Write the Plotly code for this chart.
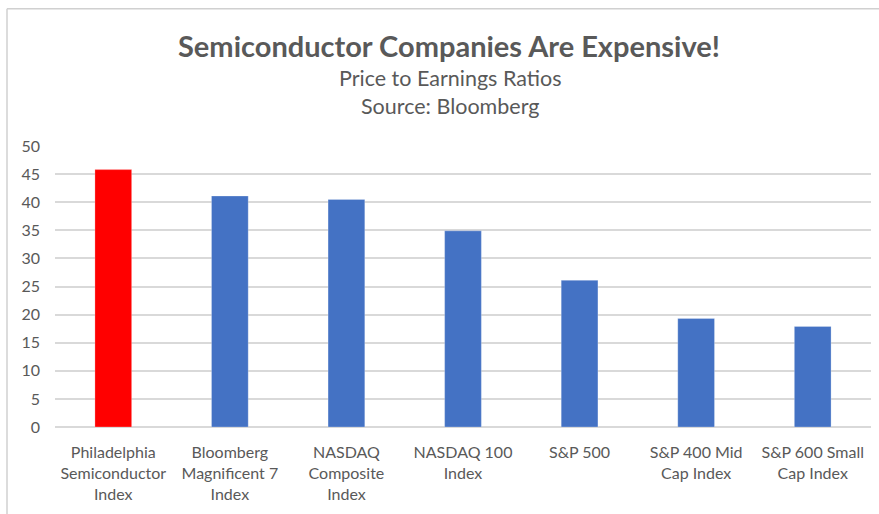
import plotly.graph_objects as go

categories = [
    "Philadelphia<br>Semiconductor<br>Index",
    "Bloomberg<br>Magnificent 7<br>Index",
    "NASDAQ<br>Composite<br>Index",
    "NASDAQ 100<br>Index",
    "S&P 500",
    "S&P 400 Mid<br>Cap Index",
    "S&P 600 Small<br>Cap Index",
]
pe_ratios = [45.8, 41.1, 40.5, 34.9, 26.1, 19.3, 17.9]
bar_colors = ["#FF0000"] + ["#4472C4"] * 6

title_text = "Semiconductor Companies Are Expensive!"
subtitle_text = "Price to Earnings Ratios"
source_text = "Source: Bloomberg"

W, H = 879, 514
L, R = 55, 871
T, B = 145.6, 427.3

def px_x(p):
    return (p - L) / (R - L)

def px_y(p):
    return (B - p) / (B - T)

FONT = "Lato, 'Open Sans', sans-serif"
GRAY = "#595959"

fig = go.Figure(
    go.Bar(
        x=categories,
        y=pe_ratios,
        marker=dict(color=bar_colors, line=dict(color="rgba(255,255,255,0.5)", width=0.5)),
        width=0.315,
    )
)

fig.update_layout(
    width=W,
    height=H,
    margin=dict(l=L, r=W - R, t=T, b=H - B, pad=0),
    paper_bgcolor="white",
    plot_bgcolor="white",
    showlegend=False,
    font=dict(family=FONT, color=GRAY, size=16),
    xaxis=dict(
        showgrid=False,
        showline=False,
        zeroline=False,
        ticks="",
        tickfont=dict(family=FONT, size=16, color=GRAY),
        ticklabelstandoff=14,
    ),
    yaxis=dict(
        range=[0, 50],
        dtick=5,
        showgrid=True,
        gridcolor="#D9D9D9",
        gridwidth=1.5,
        zeroline=True,
        zerolinecolor="#D9D9D9",
        zerolinewidth=1.5,
        showline=False,
        ticks="",
        tickfont=dict(family=FONT, size=16, color=GRAY),
        ticklabelstandoff=14,
        fixedrange=True,
    ),
    annotations=[
        dict(text="<b>" + title_text + "</b>", x=px_x(449), y=px_y(45), xref="paper", yref="paper",
             xanchor="center", yanchor="middle", showarrow=False,
             font=dict(family=FONT, size=29, color="#595959")),
        dict(text=subtitle_text, x=px_x(450), y=px_y(77), xref="paper", yref="paper",
             xanchor="center", yanchor="middle", showarrow=False,
             font=dict(family=FONT, size=21.5, color="#595959")),
        dict(text=source_text, x=px_x(450), y=px_y(106), xref="paper", yref="paper",
             xanchor="center", yanchor="middle", showarrow=False,
             font=dict(family=FONT, size=21.5, color="#595959")),
    ],
    shapes=[
        dict(type="line", xref="paper", yref="paper", x0=px_x(7), x1=px_x(W + 5), y0=px_y(8), y1=px_y(8),
             line=dict(color="#D0D0D0", width=1.5)),
        dict(type="line", xref="paper", yref="paper", x0=px_x(7), x1=px_x(7), y0=px_y(8), y1=px_y(H + 5),
             line=dict(color="#D0D0D0", width=1.5)),
    ],
)

fig.write_html("out.html", config={"displayModeBar": False})
